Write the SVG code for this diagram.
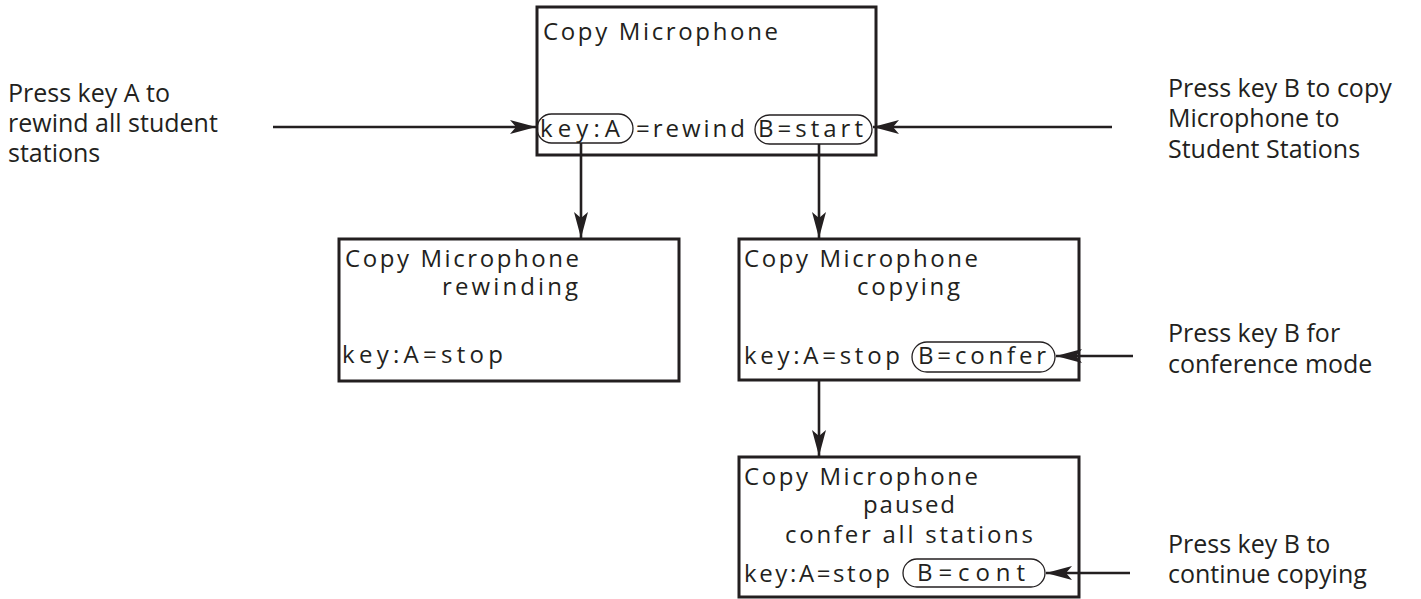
<svg xmlns="http://www.w3.org/2000/svg" width="1421" height="599" viewBox="0 0 1421 599">
<defs>
<style>
.box{fill:#fff;stroke:#231f20;stroke-width:3}
.pill{fill:none;stroke:#231f20;stroke-width:1.3}
.t{font-family:"Open Sans","Liberation Sans",sans-serif;font-size:24px;fill:#231f20}
.lbl{font-family:"Open Sans","Liberation Sans",sans-serif;font-size:25px;fill:#231f20}
.ln{stroke:#231f20;stroke-width:2.6;fill:none;marker-end:url(#ah)}
</style>
<marker id="ah" viewBox="0 0 26 14" refX="26" refY="7" markerWidth="26" markerHeight="14" markerUnits="userSpaceOnUse" orient="auto">
<path d="M0,0 L26,7 L0,14 L6,7 z" fill="#231f20"/>
</marker>
</defs>
<rect width="1421" height="599" fill="#fff"/>

<g id="labels">
<text class="lbl" x="8" y="102">Press key A to</text>
<text class="lbl" x="8" y="132">rewind all student</text>
<text class="lbl" x="8" y="162">stations</text>
<text class="lbl" x="1168" y="97">Press key B to copy</text>
<text class="lbl" x="1168" y="127">Microphone to</text>
<text class="lbl" x="1168" y="158">Student Stations</text>
<text class="lbl" x="1168" y="342">Press key B for</text>
<text class="lbl" x="1168" y="373">conference mode</text>
<text class="lbl" x="1168" y="553">Press key B to</text>
<text class="lbl" x="1168" y="583">continue copying</text>
</g>

<g id="node-main">
<rect class="box" x="537" y="7" width="339" height="148"/>
<text class="t" x="543" y="40" textLength="235" lengthAdjust="spacing">Copy Microphone</text>
<rect class="pill" x="537" y="114" width="96" height="29" rx="14.5"/>
<text class="t" x="540" y="137" textLength="80" lengthAdjust="spacing">key:A</text>
<text class="t" x="636" y="137" textLength="109" lengthAdjust="spacing">=rewind</text>
<rect class="pill" x="755" y="115" width="117" height="29" rx="14.5"/>
<text class="t" x="758" y="137" textLength="105" lengthAdjust="spacing">B=start</text>
</g>

<g id="node-rewinding">
<rect class="box" x="339" y="239" width="340" height="142"/>
<text class="t" x="345" y="267" textLength="234" lengthAdjust="spacing">Copy Microphone</text>
<text class="t" x="442" y="295" textLength="136" lengthAdjust="spacing">rewinding</text>
<text class="t" x="342" y="363" textLength="161" lengthAdjust="spacing">key:A=stop</text>
</g>

<g id="node-copying">
<rect class="box" x="739" y="239" width="340" height="141"/>
<text class="t" x="744" y="267" textLength="234" lengthAdjust="spacing">Copy Microphone</text>
<text class="t" x="857" y="295" textLength="103" lengthAdjust="spacing">copying</text>
<text class="t" x="744" y="364" textLength="156" lengthAdjust="spacing">key:A=stop</text>
<rect class="pill" x="912" y="342" width="143" height="30" rx="15"/>
<text class="t" x="918" y="364" textLength="128" lengthAdjust="spacing">B=confer</text>
</g>

<g id="node-paused">
<rect class="box" x="739" y="457" width="340" height="140"/>
<text class="t" x="744" y="485" textLength="234" lengthAdjust="spacing">Copy Microphone</text>
<text class="t" x="863" y="513" textLength="92" lengthAdjust="spacing">paused</text>
<text class="t" x="785" y="543" textLength="248" lengthAdjust="spacing">confer all stations</text>
<text class="t" x="744" y="582" textLength="146" lengthAdjust="spacing">key:A=stop</text>
<rect class="pill" x="903" y="559" width="142" height="28" rx="14"/>
<text class="t" x="917" y="581" textLength="108" lengthAdjust="spacing">B=cont</text>
</g>

<g id="connectors">
<line class="ln" x1="273" y1="127" x2="536" y2="127"/>
<line class="ln" x1="1112" y1="127" x2="873" y2="127"/>
<line class="ln" x1="581" y1="143" x2="581" y2="238"/>
<line class="ln" x1="819" y1="144" x2="819" y2="238"/>
<line class="ln" x1="1133" y1="356" x2="1056" y2="356"/>
<line class="ln" x1="819" y1="381" x2="819" y2="456"/>
<line class="ln" x1="1130" y1="573" x2="1046" y2="573"/>
</g>
</svg>
